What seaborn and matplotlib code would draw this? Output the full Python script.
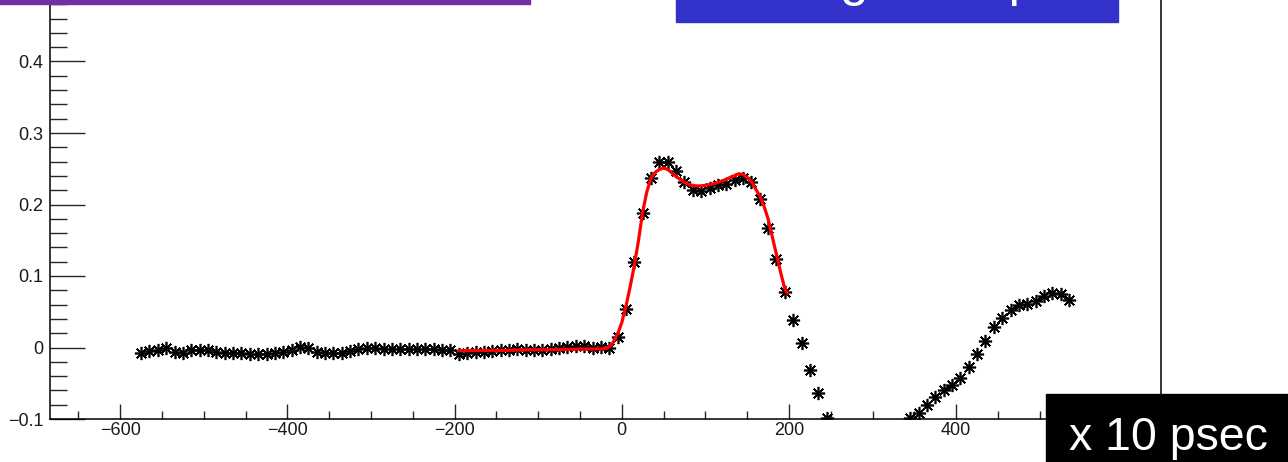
import numpy as np
import matplotlib
matplotlib.use("Agg")
import matplotlib.pyplot as plt
from matplotlib.patches import Rectangle
from matplotlib.ticker import MultipleLocator, FuncFormatter
import seaborn as sns

# Sampled waveform (time in units of 10 ps, amplitude)
time_start, time_stop, time_step = -575, 545, 10
amplitude = [
    -0.007, -0.005, -0.003, -0.001, -0.006, -0.007, -0.004, -0.003, -0.004, -0.006,
    -0.007, -0.007, -0.008, -0.009, -0.009, -0.009, -0.008, -0.006, -0.003, 0.001,
    -0.001, -0.006, -0.008, -0.008, -0.007, -0.005, -0.002, 0.000, -0.001, -0.002,
    -0.002, -0.002, -0.002, -0.002, -0.002, -0.002, -0.003, -0.004, -0.009, -0.008,
    -0.006, -0.006, -0.005, -0.004, -0.003, -0.002, -0.003, -0.003, -0.004, -0.002,
    0.000, 0.001, 0.002, 0.002, 0.000, 0.001, -0.001, 0.014, 0.054, 0.119,
    0.188, 0.237, 0.259, 0.259, 0.247, 0.231, 0.2205, 0.2186, 0.223, 0.2275,
    0.229, 0.2345, 0.237, 0.231, 0.208, 0.167, 0.124, 0.077, 0.039, 0.006,
    -0.031, -0.064, -0.098, -0.130, -0.158, -0.180, -0.195, -0.200, -0.192, -0.172,
    -0.148, -0.122, -0.099, -0.091, -0.080, -0.0695, -0.060, -0.052, -0.043, -0.0275,
    -0.009, 0.009, 0.028, 0.0415, 0.053, 0.0597, 0.061, 0.065, 0.0727, 0.0765,
    0.075, 0.0667,
]
time = np.arange(time_start, time_stop, time_step)

# Fitted pulse shape
fit_time = [-195, -170, -140, -110, -80, -50, -25, -18, -12, -8, -4, 0, 5, 10, 15,
            20, 25, 30, 35, 40, 45, 50, 55, 60, 65, 70, 75, 80, 85, 90, 95, 100,
            110, 120, 130, 140, 145, 150, 155, 160, 165, 170, 175, 180, 185, 190,
            195, 198]
fit_amp = [-0.0045, -0.0042, -0.004, -0.0032, -0.003, -0.0022, -0.002, -0.001,
           0.004, 0.012, 0.022, 0.035, 0.058, 0.085, 0.115, 0.150, 0.190, 0.218,
           0.237, 0.245, 0.249, 0.251, 0.249, 0.244, 0.239, 0.235, 0.231, 0.228,
           0.2265, 0.226, 0.226, 0.227, 0.229, 0.233, 0.238, 0.243, 0.242, 0.238,
           0.232, 0.222, 0.212, 0.198, 0.180, 0.155, 0.130, 0.105, 0.082, 0.076]

banner_text = "Fitting example"
unit_text = "x 10 psec"

sns.set_theme(style="white")
plt.rcParams["font.family"] = ["Liberation Sans", "DejaVu Sans"]

W, H = 1288, 462
fig = plt.figure(figsize=(W / 100, H / 100), dpi=100)
ax = fig.add_axes([50 / W, (H - 419) / H, 1111 / W, 429 / H])
ax.set_facecolor("white")

sns.lineplot(x=time, y=amplitude, ax=ax, estimator=None, sort=False,
             linestyle="none", marker=(8, 2, 0), markersize=9.5,
             mec="black", mew=1.2, color="black", zorder=2)
sns.lineplot(x=time, y=amplitude, ax=ax, estimator=None, sort=False,
             linestyle="none", marker="o", markersize=3.4,
             mec="black", mew=0, color="black", zorder=2)
sns.lineplot(x=fit_time, y=fit_amp, ax=ax, estimator=None, sort=False,
             color="#ff0000", linewidth=2.3, zorder=3)

ax.set_xlim(-684, 645)
ax.set_ylim(-0.1, 0.5)
ax.set_xlabel("")
ax.set_ylabel("")

ax.xaxis.set_major_locator(MultipleLocator(200))
ax.xaxis.set_minor_locator(MultipleLocator(50))
ax.yaxis.set_major_locator(MultipleLocator(0.1))
ax.yaxis.set_minor_locator(MultipleLocator(0.02))


def fmt_y(v, _):
    if v > 0.45:
        return ""
    s = f"{v:.1f}".rstrip("0").rstrip(".")
    if s in ("-0", ""):
        s = "0"
    return s.replace("-", "\u2212")


def fmt_x(v, _):
    if v > 550:
        return ""
    return f"{v:g}".replace("-", "\u2212")


ax.xaxis.set_major_formatter(FuncFormatter(fmt_x))
ax.yaxis.set_major_formatter(FuncFormatter(fmt_y))

for side in ("left", "bottom", "right"):
    ax.spines[side].set_visible(True)
    ax.spines[side].set_color("black")
    ax.spines[side].set_linewidth(1.1)
ax.spines["top"].set_visible(False)

ax.tick_params(axis="y", which="major", direction="in", length=25, width=1,
               left=True, right=False, pad=4.5, labelsize=13, labelcolor="#1a1a1a")
ax.tick_params(axis="y", which="minor", direction="in", length=12, width=1,
               left=True, right=False)
ax.tick_params(axis="x", which="major", direction="in", length=10.5, width=1,
               bottom=True, top=False, pad=2, labelsize=13, labelcolor="#1a1a1a")
ax.tick_params(axis="x", which="minor", direction="in", length=5.5, width=1,
               bottom=True, top=False)

# Header strips
fig.add_artist(Rectangle((0, 1 - 4 / H), 530 / W, 4 / H + 0.01,
                         transform=fig.transFigure, color="#7030a0", zorder=5))
fig.add_artist(Rectangle((676 / W, 1 - 22 / H), 442 / W, 22 / H + 0.01,
                         transform=fig.transFigure, color="#3333cc", zorder=5))
fig.text(903 / W, 1 + 5 / H, banner_text, ha="center", va="baseline",
         color="white", fontsize=37, zorder=6)

# Unit box
fig.add_artist(Rectangle((1046 / W, 0), (W - 1046) / W, (H - 394) / H,
                         transform=fig.transFigure, color="black", zorder=5))
fig.text(1168 / W, (H - 450) / H, unit_text, ha="center", va="baseline",
         color="white", fontsize=33.5, zorder=6)

fig.savefig("out.png", dpi=100)
